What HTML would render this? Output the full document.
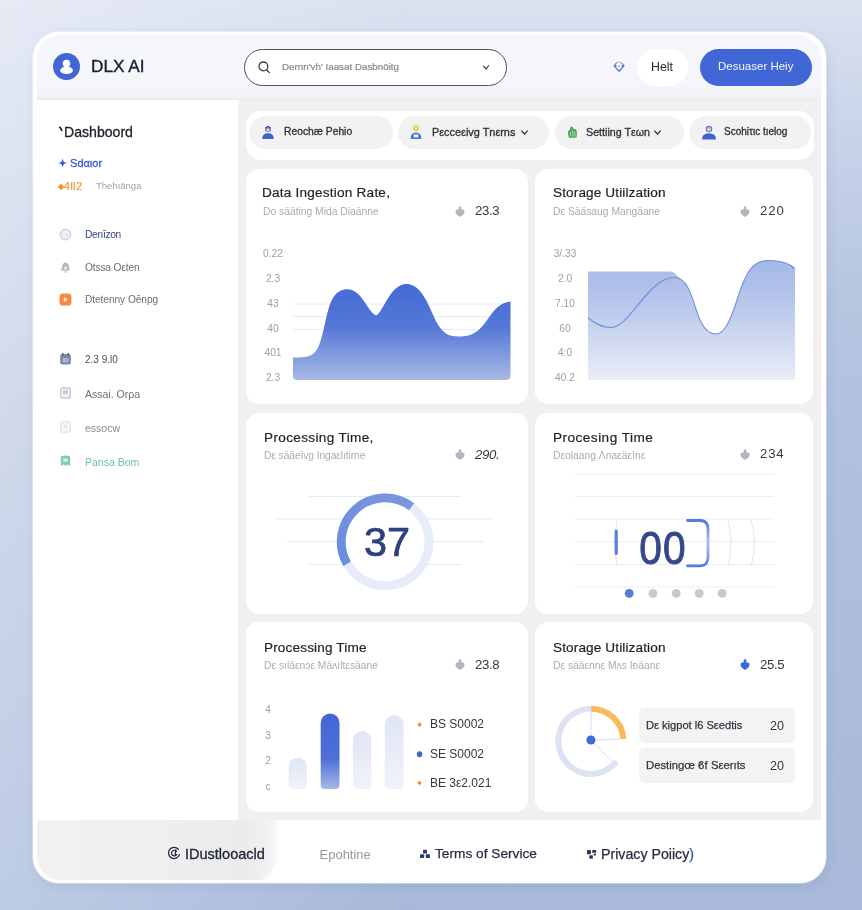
<!DOCTYPE html>
<html lang="en">
<head>
<meta charset="utf-8">
<title>DLX AI Dashboard</title>
<style>
*{box-sizing:border-box;margin:0;padding:0}
html,body{width:862px;height:910px;overflow:hidden}
body{font-family:"Liberation Sans",Arial,sans-serif;position:relative;color:#2b2f3a;
  background:linear-gradient(to bottom,#dbe2f0 0%,#c6d2e8 16%,#b6c5e0 33%,#b0c0dd 50%,#a8b9d9 100%);}
#bgl{position:absolute;left:0;top:0;width:862px;height:910px;background:linear-gradient(to bottom,#e5eaf4 0%,#cfd8ea 50%,#bdcbe4 100%);
  -webkit-mask-image:linear-gradient(to right,#000 0%,rgba(0,0,0,.75) 12%,transparent 48%);mask-image:linear-gradient(to right,#000 0%,rgba(0,0,0,.75) 12%,transparent 48%)}
.abs{position:absolute}
.t{position:absolute;white-space:nowrap;line-height:1}
#app{position:absolute;left:33px;top:31.5px;width:792.5px;height:851.5px;border-radius:26px;background:#fff;
  box-shadow:0 0 0 1px rgba(255,255,255,.35),2px 3px 10px rgba(90,112,165,.15);overflow:hidden}
#inner{position:absolute;left:4px;top:3.5px;right:4.5px;bottom:3px;border-radius:23px;overflow:hidden;background:#fff}
/* coordinates inside #inner are page coords minus (36,34) -> use wrapper shifted */
#pg{position:absolute;left:-37px;top:-35px;width:862px;height:910px;will-change:transform}
#header{left:36px;top:34px;width:790px;height:66px;background:linear-gradient(to bottom,#f6f7fa 0%,#f5f6f9 75%,#f0f1f5 97%,#e9eaee 100%)}
#main{left:238px;top:100px;width:588px;height:720px;background:#f0f0f1}
#side{left:36px;top:100px;width:202px;height:720px;background:#fff}
#footer{left:36px;top:820px;width:790px;height:64px;background:#fff}
.card{position:absolute;background:#fff;border-radius:13px}
.pill{position:absolute;background:#f2f2f3;border-radius:17px;height:32.6px;top:116px}
.tb{font-weight:normal;-webkit-text-stroke:.3px #2c2f38}
.title{font-size:13.6px;color:#1e212a;-webkit-text-stroke:.2px #1e212a}
.sub{font-size:10.3px;color:#a9abb0}
.val{font-size:13.2px;letter-spacing:-.35px;color:#353841}
.ax{font-size:10.2px;color:#9c9ea6;text-align:center;width:40px}
.nav{font-size:10.5px;color:#6b6e78}
</style>
</head>
<body>
<div id="bgl"></div>
<div id="app"><div id="inner"><div id="pg">

<!-- HEADER -->
<div class="abs" id="header"></div>
<div class="abs" style="left:53px;top:53px;width:27px;height:27px;border-radius:50%;background:#4166d5">
  <svg width="27" height="27" viewBox="0 0 27 27"><circle cx="13.5" cy="10.5" r="3.8" fill="#fff"/><ellipse cx="13.5" cy="17.3" rx="6.4" ry="3.7" fill="#fff"/></svg>
</div>
<div class="t" style="left:91px;top:58.3px;font-size:17.2px;color:#1b2233;-webkit-text-stroke:.4px #1b2233">DLX AI</div>

<div class="abs" style="left:244px;top:49px;width:263px;height:37px;border-radius:19px;border:1.3px solid #4b5168;background:#fff"></div>
<svg class="abs" style="left:256px;top:59px" width="16" height="16" viewBox="0 0 16 16"><circle cx="7.4" cy="7.4" r="4.4" fill="none" stroke="#3a3d48" stroke-width="1.3"/><path d="M10.6 10.8 L13.4 13.6" stroke="#3a3d48" stroke-width="1.3" stroke-linecap="round"/></svg>
<div class="t" style="left:282px;top:62px;font-size:9.8px;color:#85878f;-webkit-text-stroke:.2px #85878f">Dernn'vh' Iaasat Dasbnöitg</div>
<svg class="abs" style="left:482px;top:63.5px" width="8" height="7" viewBox="0 0 8 7"><path d="M1.2 1.8 L4.2 5 L6.8 1.2" fill="none" stroke="#3a3d48" stroke-width="1.15"/></svg>

<svg class="abs" style="left:613px;top:61px" width="12" height="12" viewBox="0 0 12 12"><path d="M3.4 2 L1.2 4.8 L6.1 10.4 L11 4.8 L8.8 2 M1.6 5 H3.6 M8.6 5 H10.6" fill="none" stroke="#3e66dc" stroke-width="1.05" stroke-linecap="round" stroke-linejoin="round"/><path d="M4.8 1.6 L5.4 1 M6.8 1 L7.4 1.6 M5.6 5.2 H6.6" stroke="#e4495f" stroke-width="1" stroke-linecap="round"/></svg>
<div class="abs" style="left:637px;top:49px;width:51px;height:37px;border-radius:19px;background:#fff"></div>
<div class="t" style="left:651px;top:61px;font-size:12.3px;color:#23262e">Helt</div>
<div class="abs" style="left:700px;top:49px;width:112px;height:37px;border-radius:19px;background:#4166d5"></div>
<div class="t" style="left:718px;top:61px;font-size:11.5px;color:#f4f6ff">Desuaser Heiy</div>

<!-- SIDEBAR / MAIN / FOOTER backgrounds -->
<div class="abs" id="side"></div>
<div class="abs" id="main"></div>
<div class="abs" id="footer"></div>

<!-- TABS -->
<div class="card" style="left:246px;top:110.8px;width:568px;height:49.6px;border-radius:15px"></div>
<div class="pill" style="left:249px;width:144px"></div>
<div class="pill" style="left:398px;width:151px"></div>
<div class="pill" style="left:555px;width:129px"></div>
<div class="pill" style="left:689px;width:122px"></div>


<!-- tab contents -->
<svg class="abs" style="left:261px;top:125.3px" width="14" height="15" viewBox="0 0 14 15"><circle cx="7" cy="4.3" r="3" fill="#5a7fdc"/><path d="M4.2 3.6 Q7 0.2 9.8 3.6 L9.8 2.8 Q7 -0.6 4.2 2.8Z" fill="#2f4aa5"/><path d="M1.2 14 Q1.2 8.2 7 8.2 Q12.8 8.2 12.8 14 Z" fill="#3d63d0"/><circle cx="7" cy="5" r="1.7" fill="#f2c9a8"/></svg>
<div class="t tb" style="left:284px;top:127.3px;font-size:10.3px;color:#2c2f38">Reochæ Pehio</div>
<svg class="abs" style="left:409px;top:124.3px" width="14" height="16" viewBox="0 0 14 16"><circle cx="7" cy="4.2" r="2.9" fill="#f2c25a"/><circle cx="7" cy="4.2" r="1.5" fill="#fbe6b4"/><path d="M1.6 15 Q1.6 8.6 7 8.6 Q12.4 8.6 12.4 15 Z" fill="#4a6fd6"/><rect x="4.6" y="10.4" width="4.8" height="3" fill="#e9eefb"/></svg>
<div class="t tb" style="left:432px;top:127.3px;font-size:10.9px;color:#2c2f38">Pεcceεivg Tnεrns</div>
<svg class="abs" style="left:519.5px;top:129.3px" width="9" height="7" viewBox="0 0 9 7"><path d="M1.3 1.6 L4.5 5 L7.7 1.6" fill="none" stroke="#2c2f38" stroke-width="1.2"/></svg>
<svg class="abs" style="left:567px;top:126px" width="11" height="13" viewBox="0 0 11 13"><path d="M1 5.2 L3 3.4 L3.6 1 L5.4 0.6 L6.4 2.8 L9.2 3.6 L10 6.4 L9.6 11.6 L2 12 L1.2 9 Z" fill="#4aa857"/><path d="M3.2 5.5 L3.8 10.6 M5.6 4.2 L6 10.6 M7.8 5.6 L7.9 10.4" stroke="#b7e2bd" stroke-width=".9"/></svg>
<div class="t tb" style="left:586px;top:127.3px;font-size:10.7px;color:#2c2f38">Settiing Tεωn</div>
<svg class="abs" style="left:653px;top:129.3px" width="9" height="7" viewBox="0 0 9 7"><path d="M1.3 1.6 L4.5 5 L7.7 1.6" fill="none" stroke="#2c2f38" stroke-width="1.2"/></svg>
<svg class="abs" style="left:700.5px;top:124.4px" width="16" height="16.5" viewBox="0 0 15 15"><circle cx="7.5" cy="4.4" r="3.1" fill="#5a7fdc"/><circle cx="7.5" cy="4.8" r="1.9" fill="#f2c9a8"/><path d="M1 14.4 Q1 8.4 7.5 8.4 Q14 8.4 14 14.4 Z" fill="#3d63d0"/></svg>
<div class="t tb" style="left:724px;top:127.3px;font-size:10px;color:#2c2f38">Scohiτιc tıelog</div>

<svg class="abs" style="left:58px;top:126px" width="6" height="7" viewBox="0 0 6 7"><path d="M0.6 0.8 L2.6 0.6 L4.8 4.6 L3.6 5.4 Z" fill="#1d2029"/></svg>
<div class="t" style="left:64px;top:125px;font-size:14.1px;color:#1d2029;-webkit-text-stroke:.3px #1d2029">Dashboord</div>
<div class="t" style="left:58px;top:158px;font-size:11px;color:#3559d6;-webkit-text-stroke:.3px #3559d6">✦ Sdαιor</div>
<div class="t" style="left:58px;top:181px;font-size:10.5px;color:#f39433;-webkit-text-stroke:.2px #f39433"><span style="font-size:8px;vertical-align:1px">◆</span><span style="letter-spacing:.6px">4ll2</span></div>
<div class="t" style="left:96px;top:181px;font-size:9.5px;color:#a0a2a8">Thehıānga</div>

<svg class="abs" style="left:59px;top:228px" width="13" height="13" viewBox="0 0 13 13"><circle cx="6.5" cy="6.5" r="5.2" fill="#eef0f6" stroke="#d3d7e4" stroke-width="1.6"/><path d="M4.2 6.8 Q6.5 9.6 8.8 6.8 Z" fill="#fff" stroke="#d9dce8" stroke-width=".6"/></svg>
<div class="t nav" style="left:85px;top:229.5px;color:#35448a;font-size:10.2px;letter-spacing:-.32px">Derıīzon</div>
<svg class="abs" style="left:59px;top:261px" width="13" height="13" viewBox="0 0 13 13"><path d="M6.5 1.6 Q10 2.2 10 7 L11.2 9.6 L1.8 9.6 L3 7 Q3 2.2 6.5 1.6Z" fill="#b6b9c4"/><circle cx="6.5" cy="7" r="1.6" fill="#e9eaf0"/><rect x="5" y="10.2" width="3" height="1.4" rx=".7" fill="#b6b9c4"/></svg>
<div class="t nav" style="left:85px;top:262.5px;font-size:10.2px;letter-spacing:-.15px">Otssa Oεten</div>
<svg class="abs" style="left:59px;top:293px" width="13" height="13" viewBox="0 0 13 13"><rect x="0.6" y="0.6" width="11.8" height="12" rx="3.4" fill="#f58a40"/><path d="M5.2 4.6 L8.4 6.6 L5.2 8.6 Z" fill="#fff1e4" stroke="#fff1e4" stroke-width=".6" stroke-linejoin="round"/></svg>
<div class="t nav" style="left:85px;top:294.5px;font-size:10.2px;letter-spacing:-.08px">Dtetenny Oēnpg</div>

<svg class="abs" style="left:59px;top:352px" width="13" height="14" viewBox="0 0 13 14"><rect x="1.2" y="2" width="10.6" height="10.6" rx="2" fill="#7d86a6"/><rect x="3" y="0.8" width="1.6" height="3" rx=".8" fill="#5d6688"/><rect x="8.4" y="0.8" width="1.6" height="3" rx=".8" fill="#5d6688"/><rect x="3.4" y="6" width="6.2" height="4.6" rx="1" fill="#aab2cc"/></svg>
<div class="t nav" style="left:85px;top:354.5px;color:#4c4f5a;font-size:10px">2.3 9.l0</div>
<svg class="abs" style="left:59px;top:386px" width="13" height="14" viewBox="0 0 13 14"><rect x="1.6" y="1.8" width="9.8" height="10.4" rx="2" fill="#eceef3" stroke="#c3c6d0" stroke-width="1.2"/><rect x="4" y="4.4" width="5" height="3.4" rx=".8" fill="#c3c6d0"/></svg>
<div class="t nav" style="left:85px;top:388.5px">Assai. Orρa</div>
<svg class="abs" style="left:59px;top:420px" width="13" height="14" viewBox="0 0 13 14"><rect x="1.6" y="1.8" width="9.8" height="10.4" rx="2" fill="#f6f7f9" stroke="#e0e2e8" stroke-width="1.2"/><rect x="5.4" y="4.4" width="2.2" height="4.6" rx=".6" fill="#e3e5ea"/></svg>
<div class="t nav" style="left:85px;top:422.5px;color:#8a8c95">essocw</div>
<svg class="abs" style="left:59px;top:454px" width="13" height="14" viewBox="0 0 13 14"><path d="M1.8 2.4 Q6.5 0.8 11.2 2.4 L11.2 12 L8.6 10.6 L6.5 12 L4.4 10.6 L1.8 12 Z" fill="#7fd0a8"/><rect x="4.2" y="4.4" width="4.6" height="3.4" rx=".8" fill="#d9f3e6"/></svg>
<div class="t nav" style="left:85px;top:456.5px;color:#6cc49a">Pansa Bom</div>

<!--SIDEBAR-DONE-->

<!-- CARD 1 -->
<div class="card" style="left:246px;top:169px;width:282px;height:235px"></div>
<div class="t title" style="left:262px;top:186.1px;letter-spacing:.21px">Data Ingestion Rate,</div>
<div class="t sub" style="left:263px;top:207.3px">Do sääting Mida Diaänne</div>
<svg class="abs" style="left:454.5px;top:205.8px" width="10" height="11" viewBox="0 0 10 11"><path d="M3.7 1.2 Q3.7 0.3 5 0.3 Q6.3 0.3 6.3 1.2 L6.3 3.2 Q9.1 3.3 9.5 4.6 Q10 8.7 5 10.9 Q0 8.7 0.5 4.6 Q0.9 3.3 3.7 3.2 Z" fill="#b3b6c0"/></svg>
<div class="t val" style="left:475px;top:204px">23.3</div>
<div class="t ax" style="left:253px;top:248.6px">0.22</div><div class="t ax" style="left:253px;top:273.6px">2.3</div><div class="t ax" style="left:253px;top:298.6px">43</div><div class="t ax" style="left:253px;top:323.6px">40</div><div class="t ax" style="left:253px;top:348.1px">401</div><div class="t ax" style="left:253px;top:373.1px">2.3</div>
<svg class="abs" style="left:288px;top:270px" width="230" height="116" viewBox="288 270 230 116">
<defs><linearGradient id="g1" x1="0" y1="0" x2="0" y2="1"><stop offset="0" stop-color="#446bd6"/><stop offset=".45" stop-color="#5578d8"/><stop offset="1" stop-color="#a9b9e4"/></linearGradient></defs>
<path d="M293 304H511M293 316.7H511M293 329.5H511" stroke="#e7eaf8" stroke-width="1"/>
<path d="M293 357.5 C301 357.5 308 357.5 313 354 C324 347 324.5 310 333.5 297 C339.5 288 350.5 287 357 293 C365 300 370 313 376 315.5 C383 313 390 284 406.5 284 C423 284 430 310 437 323 C443 334 450 336.5 458 336.5 C468 336.5 476 335 485 323 C493 312 498 303 510.5 301.5 L510.5 376 Q510.5 380 506.5 380 L297 380 Q293 380 293 376 Z" fill="url(#g1)"/>
</svg>

<!-- CARD 2 -->
<div class="card" style="left:534.5px;top:169px;width:278.8px;height:235px"></div>
<div class="t title" style="left:553px;top:186.1px;letter-spacing:.12px">Storage Utiilzation</div>
<div class="t sub" style="left:553px;top:207.3px">Dε Sääsaug Mangäane</div>
<svg class="abs" style="left:740px;top:205.8px" width="10" height="11" viewBox="0 0 10 11"><path d="M3.7 1.2 Q3.7 0.3 5 0.3 Q6.3 0.3 6.3 1.2 L6.3 3.2 Q9.1 3.3 9.5 4.6 Q10 8.7 5 10.9 Q0 8.7 0.5 4.6 Q0.9 3.3 3.7 3.2 Z" fill="#b3b6c0"/></svg>
<div class="t val" style="left:760px;top:204px;letter-spacing:.9px">220</div>
<div class="t ax" style="left:545px;top:248.6px">3/.33</div><div class="t ax" style="left:545px;top:273.6px">2.0</div><div class="t ax" style="left:545px;top:298.6px">7.10</div><div class="t ax" style="left:545px;top:323.6px">60</div><div class="t ax" style="left:545px;top:348.1px">4:0</div><div class="t ax" style="left:545px;top:373.1px">40.2</div>
<svg class="abs" style="left:584px;top:254px" width="216" height="130" viewBox="584 254 216 130">
<defs><linearGradient id="g2" gradientUnits="userSpaceOnUse" x1="0" y1="258" x2="0" y2="380"><stop offset="0" stop-color="#a3b7e6"/><stop offset=".35" stop-color="#b6c5ea"/><stop offset="1" stop-color="#eaedf6"/></linearGradient></defs>
<path d="M588 271.5 L670 271.5 Q673 271.5 675 273.5 L680 278.6 C691 284 694 310 701 322 C706 332 711 334 716 334 C724 334 730 322 737 300 C744 278 750 260.5 768 260.5 C780 260.5 789 263 795 268.5 L795 380 L588 380 Z" fill="url(#g2)"/>
<path d="M588 317.5 C596 325 604 327.5 611 327.5 C630 327.5 648 277.5 674.5 277.5 C691 277.5 694 310 701 322 C706 332 711 334 716 334 C724 334 730 322 737 300 C744 278 750 260.5 768 260.5 C780 260.5 789 263 795 268.5" fill="none" stroke="#6f8fe0" stroke-width="1.1"/>
</svg>


<!-- CARD 3 -->
<div class="card" style="left:246px;top:413px;width:282px;height:201px"></div>
<div class="t title" style="left:264px;top:430.7px;letter-spacing:.34px">Processing Time,</div>
<div class="t sub" style="left:264px;top:451px;letter-spacing:-.1px">Dε sääeìvg Ingaεlıtirne</div>
<svg class="abs" style="left:454.5px;top:448.5px" width="10" height="11" viewBox="0 0 10 11"><path d="M3.7 1.2 Q3.7 0.3 5 0.3 Q6.3 0.3 6.3 1.2 L6.3 3.2 Q9.1 3.3 9.5 4.6 Q10 8.7 5 10.9 Q0 8.7 0.5 4.6 Q0.9 3.3 3.7 3.2 Z" fill="#b3b6c0"/></svg>
<div class="t val" style="left:475px;top:448px;font-style:italic">290.</div>
<svg class="abs" style="left:270px;top:480px" width="230" height="120" viewBox="270 480 230 120">
<path d="M308 496.5H461M275 519H494M286 541.5H484M308 564.5H461" stroke="#e8eaf5" stroke-width="1"/>
<circle cx="385.1" cy="541.8" r="39.4" fill="#fff"/>
<circle cx="385.1" cy="541.8" r="43.85" fill="none" stroke="#e7ecf8" stroke-width="8.8"/>
<defs><linearGradient id="g3" x1="0" y1="1" x2="1" y2="0"><stop offset="0" stop-color="#6a8de0"/><stop offset="1" stop-color="#7b97da"/></linearGradient></defs>
<path d="M347.12 563.73 A43.85 43.85 0 0 1 411.49 506.78" fill="none" stroke="url(#g3)" stroke-width="8.8"/>
</svg>
<div class="t" style="left:347px;top:521px;width:80px;text-align:center;font-size:41.5px;color:#2f4080;-webkit-text-stroke:.7px #2f4080">37</div>

<!-- CARD 4 -->
<div class="card" style="left:534.5px;top:413px;width:278.8px;height:201px"></div>
<div class="t title" style="left:553px;top:430.7px;letter-spacing:.47px">Procesing Time</div>
<div class="t sub" style="left:553px;top:451px">Dεolaang Λnaεäεìnε</div>
<svg class="abs" style="left:740px;top:448.5px" width="10" height="11" viewBox="0 0 10 11"><path d="M3.7 1.2 Q3.7 0.3 5 0.3 Q6.3 0.3 6.3 1.2 L6.3 3.2 Q9.1 3.3 9.5 4.6 Q10 8.7 5 10.9 Q0 8.7 0.5 4.6 Q0.9 3.3 3.7 3.2 Z" fill="#b3b6c0"/></svg>
<div class="t val" style="left:760px;top:447px;letter-spacing:.8px">234</div>
<svg class="abs" style="left:570px;top:470px" width="210" height="132" viewBox="570 470 210 132">
<path d="M575 474.5H774M575 496.5H774M575 519H774M575 541.5H774M575 564.5H774M575 587H774" stroke="#eceef7" stroke-width="1"/>
<path d="M617 520 Q613 543 617 566 M728 520 Q734 543 728 566 M751 520 Q758 543 751 566" fill="none" stroke="#e4e6ee" stroke-width="1"/>
<rect x="614.6" y="529.5" width="3.2" height="25.5" rx="1.6" fill="#5b7fdc"/>
<defs><linearGradient id="g4" gradientUnits="userSpaceOnUse" x1="0" y1="519" x2="0" y2="568"><stop offset="0" stop-color="#4f76dc"/><stop offset=".45" stop-color="#a9bdf0"/><stop offset=".7" stop-color="#8aa4ea"/><stop offset="1" stop-color="#4f76dc"/></linearGradient></defs>
<path d="M687.5 520.5 H700 Q708 520.5 708 529 V557 Q708 565.8 700 565.8 H687.5" fill="none" stroke="url(#g4)" stroke-width="2.8" stroke-linecap="round"/>
<circle cx="629.2" cy="593.3" r="4.4" fill="#587bd6"/><circle cx="652.9" cy="593.3" r="4.4" fill="#c6c9d3"/><circle cx="676.2" cy="593.3" r="4.4" fill="#c6c9d3"/><circle cx="699.2" cy="593.3" r="4.4" fill="#c6c9d3"/><circle cx="722.1" cy="593.3" r="4.4" fill="#c6c9d3"/>
</svg>
<div class="t" style="left:623px;top:525px;width:80px;text-align:center;font-size:46.5px;color:#34478a;letter-spacing:1.4px;transform:scaleX(.875);-webkit-text-stroke:.9px #34478a">00</div>

<!-- CARD 5 -->
<div class="card" style="left:246px;top:622px;width:282px;height:190px"></div>
<div class="t title" style="left:264px;top:640.5px;letter-spacing:.14px">Processing Time</div>
<div class="t sub" style="left:264px;top:661px">Dε sıläεnɔε Mäʌıltεsäane</div>
<svg class="abs" style="left:454.5px;top:659px" width="10" height="11" viewBox="0 0 10 11"><path d="M3.7 1.2 Q3.7 0.3 5 0.3 Q6.3 0.3 6.3 1.2 L6.3 3.2 Q9.1 3.3 9.5 4.6 Q10 8.7 5 10.9 Q0 8.7 0.5 4.6 Q0.9 3.3 3.7 3.2 Z" fill="#b3b6c0"/></svg>
<div class="t val" style="left:475px;top:658px">23.8</div>
<div class="t ax" style="left:248px;top:704.6px">4</div>
<div class="t ax" style="left:248px;top:730.6px">3</div>
<div class="t ax" style="left:248px;top:755.6px">2</div>
<div class="t ax" style="left:248px;top:781.6px">c</div>
<svg class="abs" style="left:284px;top:708px" width="140" height="86" viewBox="284 708 140 86">
<defs><linearGradient id="gl" x1="0" y1="0" x2="0" y2="1"><stop offset="0" stop-color="#dfe5f4"/><stop offset="1" stop-color="#f1f3fa"/></linearGradient>
<linearGradient id="gb" x1="0" y1="0" x2="0" y2="1"><stop offset="0" stop-color="#4267d6"/><stop offset=".6" stop-color="#4d70d7"/><stop offset="1" stop-color="#a7b8e8"/></linearGradient></defs>
<path d="M288.7 766.8000000000001 A9.1 9.1 0 0 1 306.9 766.8000000000001 V785 Q306.9 789 302.9 789 H292.7 Q288.7 789 288.7 785 Z" fill="url(#gl)"/>
<path d="M320.7 722.9 A9.4 9.4 0 0 1 339.5 722.9 V785 Q339.5 789 335.5 789 H324.7 Q320.7 789 320.7 785 Z" fill="url(#gb)"/>
<path d="M353 740.1 A9.1 9.1 0 0 1 371.2 740.1 V785 Q371.2 789 367.2 789 H357 Q353 789 353 785 Z" fill="url(#gl)"/>
<path d="M384.8 724.4 A9.4 9.4 0 0 1 403.6 724.4 V785 Q403.6 789 399.6 789 H388.8 Q384.8 789 384.8 785 Z" fill="url(#gl)"/>
</svg>
<svg class="abs" style="left:414px;top:718px" width="12" height="72" viewBox="414 718 12 72"><path d="M419.6 722.3 L421.8 724.6 L419.6 726.9 L417.4 724.6Z" fill="#f4804a"/><ellipse cx="419.6" cy="754.2" rx="2.7" ry="3" fill="#3f66d8"/><path d="M419.6 780.7 L421.8 783 L419.6 785.3 L417.4 783Z" fill="#f4804a"/></svg>
<div class="t" style="left:430px;top:718px;font-size:12px;color:#33363f">BS S0002</div>
<div class="t" style="left:430px;top:748px;font-size:12px;color:#33363f">SE S0002</div>
<div class="t" style="left:430px;top:777px;font-size:12px;color:#33363f">BE 3ε2.021</div>

<!-- CARD 6 -->
<div class="card" style="left:534.5px;top:622px;width:278.8px;height:190px"></div>
<div class="t title" style="left:553px;top:640.5px;letter-spacing:.12px">Storage Utilization</div>
<div class="t sub" style="left:553px;top:661px">Dε sääεnnε Mʌs Iᴆäanε</div>
<svg class="abs" style="left:740px;top:659px" width="10" height="11" viewBox="0 0 10 11"><path d="M3.7 1.2 Q3.7 0.3 5 0.3 Q6.3 0.3 6.3 1.2 L6.3 3.2 Q9.1 3.3 9.5 4.6 Q10 8.7 5 10.9 Q0 8.7 0.5 4.6 Q0.9 3.3 3.7 3.2 Z" fill="#3f66d8"/></svg>
<div class="t val" style="left:760px;top:658px">25.5</div>
<svg class="abs" style="left:550px;top:700px" width="84" height="84" viewBox="550 700 84 84">
<path d="M614.74 763.53 A32.6 32.6 0 1 1 590.90 708.70" fill="none" stroke="#dde3f2" stroke-width="6" stroke-linecap="round"/>
<path d="M591.18 708.70 A32.6 32.6 0 0 1 623.42 739.03" fill="none" stroke="#f9ba5e" stroke-width="6"/>
<path d="M590.9 740.3 L590.9 711.7 M590.9 740.3 L620.4 739.0 M590.9 740.3 L614.7 763.5" stroke="#d3dbf0" stroke-width="1"/>
<circle cx="590.9" cy="740.0" r="4.5" fill="#3f69d9"/>
</svg>
<div class="abs" style="left:639px;top:708px;width:156px;height:35px;border-radius:6px;background:#f3f3f4"></div>
<div class="abs" style="left:639px;top:748px;width:156px;height:35px;border-radius:6px;background:#f3f3f4"></div>
<div class="t" style="left:646px;top:720px;font-size:11.1px;color:#33363f;-webkit-text-stroke:.25px #33363f">Dε kigpot l6 Sεedtis</div>
<div class="t" style="left:770px;top:720px;font-size:12.6px;color:#33363f">20</div>
<div class="t" style="left:646px;top:760px;font-size:11.3px;color:#33363f;-webkit-text-stroke:.25px #33363f">Destingœ ϐf Sεerıts</div>
<div class="t" style="left:770px;top:760px;font-size:12.6px;color:#33363f">20</div>


<!-- FOOTER -->
<div class="abs" style="left:36px;top:820px;width:270px;height:66px;overflow:hidden"><div class="abs" style="left:-8px;top:-8px;width:249px;height:74px;border-radius:0 0 32px 0;background:linear-gradient(90deg,#f1f1f1 0%,#efefef 50%,#ebebeb 85%,#efefef 94%,#f7f7f7 100%);filter:blur(1.5px)"></div></div>
<svg class="abs" style="left:167px;top:846px" width="14" height="14" viewBox="0 0 14 14"><path d="M11.4 3.4 A5.6 5.6 0 1 0 12.4 8.6" fill="none" stroke="#23283a" stroke-width="1.3" stroke-linecap="round"/><path d="M9.6 5.4 A2.8 2.8 0 1 0 9.8 8.4 M8.8 3.8 L8.2 8.6" fill="none" stroke="#23283a" stroke-width="1.2" stroke-linecap="round"/></svg>
<div class="t" style="left:185px;top:846.5px;font-size:14.5px;color:#23283a;-webkit-text-stroke:.3px #23283a">IDustlooacld</div>
<div class="t" style="left:319.5px;top:847.5px;font-size:13px;color:#96989f">Epohtine</div>
<svg class="abs" style="left:419px;top:849px" width="12" height="10" viewBox="0 0 14 12"><rect x="4.6" y="0.8" width="4.8" height="4.6" rx="1" fill="#2c3a78"/><rect x="1" y="6.4" width="5" height="4.4" rx="1" fill="#2c3a78"/><rect x="8" y="6.4" width="5" height="4.4" rx="1" fill="#2c3a78"/></svg>
<div class="t" style="left:435px;top:847px;font-size:13.7px;color:#272c44;-webkit-text-stroke:.25px #272c44">Terms of Service</div>
<svg class="abs" style="left:585.5px;top:849px" width="11.5" height="10.5" viewBox="0 0 13 12"><rect x="1" y="1" width="4.6" height="5" rx="1" fill="#2c3563"/><rect x="7" y="1" width="4.6" height="3.4" rx="1" fill="#2c3563"/><rect x="3.6" y="7" width="4.2" height="4" rx="1" fill="#2c3563"/><rect x="8.6" y="5" width="2.6" height="2.4" rx=".6" fill="#2c3563"/></svg>
<div class="t" style="left:601px;top:847px;font-size:14.2px;color:#272c44;-webkit-text-stroke:.25px #272c44">Privacy Poiicy<span style="color:#3d63d0">)</span></div>


</div></div></div>
</body>
</html>
